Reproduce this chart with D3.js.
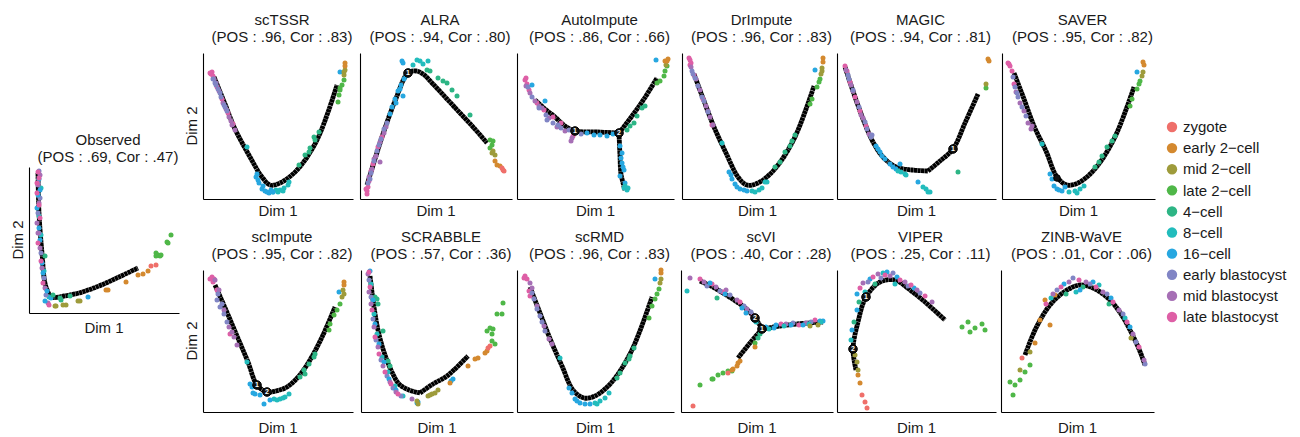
<!DOCTYPE html>
<html>
<head>
<meta charset="utf-8">
<script src="https://cdn.jsdelivr.net/npm/d3@7"></script>
<style>
  body { margin: 0; background: #fff; }
  svg { font-family: "Liberation Sans", Arial, sans-serif; }
</style>
</head>
<body>
<svg id="chart" width="1300" height="437"></svg>
<script>
// cell stages (legend order) and colours
const cellKeys = ["zy", "e2", "m2", "l2", "c4", "c8", "c16", "eb", "mb", "lb"];
const cellTypes = ["zygote", "early 2\u2212cell", "mid 2\u2212cell", "late 2\u2212cell", "4\u2212cell", "8\u2212cell", "16\u2212cell", "early blastocyst", "mid blastocyst", "late blastocyst"];
const cellColors = ["#EF6F6A", "#D4892F", "#9E9B3B", "#4FB748", "#2DB585", "#22BCBC", "#27A7E0", "#8185C5", "#A66FB5", "#DE5FA6"];

const methods = ["Observed", "scTSSR", "ALRA", "AutoImpute", "DrImpute", "MAGIC", "SAVER", "scImpute", "SCRABBLE", "scRMD", "scVI", "VIPER", "ZINB-WaVE"];
const posScores = [".69", ".96", ".94", ".86", ".96", ".94", ".95", ".95", ".57", ".96", ".40", ".25", ".01"];
const corScores = [".47", ".83", ".80", ".66", ".83", ".81", ".82", ".82", ".36", ".83", ".28", ".11", ".06"];

// cells in (Dim 1, Dim 2), per stage
const ptsObserved = [
  ["c8", [[1.2,12.5],[1.0,9.7],[1.2,7.8],[1.5,4.2],[2.0,1.6]]],
  ["eb", [[1.0,14.2],[0.9,13.0],[1.1,11.5],[0.9,10.0],[1.0,8.0],[1.2,6.0],[1.5,3.5],[1.7,1.8]]],
  ["mb", [[1.1,13.8],[0.9,12.8],[1.0,11.0],[0.8,9.0],[1.1,6.5],[1.3,4.5],[1.6,2.5],[1.9,1.0],[0.9,8.0]]],
  ["c16", [[1.0,13.4],[1.1,12.3],[0.8,10.5],[1.0,8.5],[1.3,5.0],[1.4,4.0],[1.8,2.2],[2.2,1.5],[1.6,1.2],[5.9,1.6],[0.9,11.8],[1.1,7.3]]],
  ["lb", [[0.9,14.1],[1.0,13.5],[0.8,12.0],[1.1,9.5],[0.9,7.0],[1.2,5.2],[1.4,3.0],[2.0,0.8],[0.8,13.0],[1.0,10.8]]],
  ["c4", [[3.1,1.5],[3.2,1.3],[2.4,1.8],[4.1,1.7],[1.6,5.7]]],
  ["m2", [[5.1,1.2],[4.9,1.2],[3.7,0.8],[3.4,0.8],[2.6,0.7],[2.7,0.7]]],
  ["e2", [[11.9,4.2],[11.4,3.9],[10.9,3.8],[9.7,3.1],[7.7,2.3],[7.9,2.3]]],
  ["zy", [[12.2,4.7],[12.7,4.8]]],
  ["l2", [[14.2,7.8],[13.8,7.1],[13.9,7.0],[12.7,6.0],[12.9,5.8],[13.1,5.7],[12.7,5.7],[13.2,5.8]]]
];
const ptsScTSSR = [
  ["lb", [[0.9,12.7],[0.8,12.5],[1.0,12.3],[0.7,12.6],[1.4,11.2],[2.5,8.6],[3.0,7.5],[1.9,10.0]]],
  ["mb", [[1.1,12.0],[1.6,10.8],[2.0,9.6],[2.6,8.2],[2.9,7.4],[3.2,6.9],[2.3,9.0],[1.3,11.6],[2.8,7.8]]],
  ["eb", [[1.2,11.6],[1.5,11.0],[1.8,10.2],[2.1,9.4],[2.4,8.8],[1.3,11.4],[1.0,12.0],[1.7,10.6],[2.2,9.2]]],
  ["c8", [[4.4,5.2],[7.3,0.9],[7.7,0.9],[8.1,1.1],[8.5,1.4],[8.6,1.7],[7.5,0.7],[8.0,0.8],[7.0,0.7]]],
  ["c16", [[5.3,2.2],[5.6,1.6],[5.9,1.0],[6.2,0.8],[6.6,0.6],[7.0,0.7],[6.0,1.3],[5.5,1.9],[6.4,0.7],[5.4,2.5],[6.8,0.9],[13.7,12.7]]],
  ["c4", [[9.6,3.4],[10.2,4.4],[10.7,5.1],[11.2,5.9],[11.6,6.7],[11.1,6.2],[10.6,4.7]]],
  ["l2", [[13.6,10.4],[13.7,10.9],[13.9,11.4],[14.1,11.9],[13.7,11.1],[13.5,9.7]]],
  ["m2", [[14.1,12.7],[14.1,12.4],[14.2,12.9]]],
  ["e2", [[14.2,13.6],[14.2,13.3]]]
];
const ptsALRA = [
  ["lb", [[0.7,0.8],[0.8,1.2],[0.9,1.8],[1.3,3.5],[1.8,5.2],[2.2,6.2],[0.6,1.0],[0.7,0.5],[1.1,2.8]]],
  ["mb", [[0.9,2.2],[1.2,3.0],[1.6,4.3],[2.0,5.7],[2.4,6.6],[2.0,3.7],[2.6,7.2],[1.4,4.0]]],
  ["eb", [[0.8,1.6],[1.1,2.6],[1.4,3.8],[1.7,4.8],[2.1,6.0],[2.4,7.0],[2.7,7.6],[1.0,2.0],[1.9,5.4]]],
  ["c16", [[3.2,9.2],[3.5,10.0],[3.8,10.8],[4.1,11.4],[4.4,12.0],[4.6,12.3],[3.6,9.6],[4.3,10.3],[4.2,13.8],[4.3,13.6],[3.0,8.5],[4.0,11.0]]],
  ["c8", [[5.7,13.9],[6.0,13.8],[6.8,13.8],[5.3,13.4],[4.9,12.8],[6.3,13.5]]],
  ["c4", [[6.7,12.9],[7.0,12.8],[7.8,12.1],[8.3,11.8],[8.7,11.6],[9.2,10.9],[9.7,10.3],[11.0,8.4]]],
  ["l2", [[13.0,5.9],[13.2,5.4],[13.3,5.8],[13.0,5.1]]],
  ["m2", [[13.3,4.8],[13.5,4.4],[13.2,4.6]]],
  ["e2", [[13.5,3.8],[13.7,3.4],[14.0,3.3]]],
  ["zy", [[14.2,3.1],[14.3,2.9],[14.4,2.8]]]
];
const ptsAutoImpute = [
  ["lb", [[0.8,11.9],[1.0,11.5],[1.2,10.9],[2.0,9.6],[3.6,8.2],[4.4,7.6],[5.6,6.3],[0.9,12.1],[2.7,8.9]]],
  ["mb", [[0.9,11.3],[1.3,10.6],[1.8,9.8],[2.5,9.1],[3.2,8.1],[4.0,7.2],[5.4,5.8],[5.5,6.1],[4.8,6.8],[2.2,9.3]]],
  ["eb", [[1.1,11.2],[1.5,10.2],[2.2,9.1],[2.9,8.4],[3.6,7.6],[4.4,7.1],[5.2,6.9],[6.4,6.5],[3.0,7.9],[4.1,7.4]]],
  ["c16", [[1.5,11.4],[2.8,9.8],[7.7,6.4],[8.3,6.4],[9.0,6.3],[7.0,6.6],[10.3,5.3],[10.5,4.6],[10.5,3.6],[10.7,2.9],[10.3,2.3],[10.8,1.6],[13.9,13.9],[10.4,4.1],[10.6,3.2],[9.6,6.5]]],
  ["c8", [[10.8,1.3],[11.0,0.9],[10.7,1.1],[11.1,1.1]]],
  ["c4", [[11.3,7.3],[11.7,7.6],[12.0,8.3],[12.5,9.1],[12.8,9.3],[11.0,6.9]]],
  ["l2", [[14.0,11.6],[14.3,11.8],[14.7,12.3],[14.8,12.8],[15.0,13.3]]],
  ["m2", [[14.9,13.4]]],
  ["e2", [[14.8,13.8],[15.0,13.8],[15.1,14.0]]]
];
const ptsDrImpute = [
  ["lb", [[0.7,14.1],[0.8,13.9],[0.9,13.6],[1.2,12.4],[2.1,10.0],[3.0,7.4],[0.8,13.4]]],
  ["mb", [[0.9,13.2],[1.4,12.0],[1.8,10.9],[2.4,9.3],[2.8,8.2],[3.1,7.4],[2.6,8.8]]],
  ["eb", [[1.0,12.8],[1.3,12.1],[1.6,11.3],[2.0,10.2],[2.6,8.7],[1.1,12.5],[2.2,9.8]]],
  ["c8", [[4.0,5.6],[7.0,0.8],[7.7,0.9],[8.3,1.7],[8.5,1.7],[7.3,0.7],[8.0,1.1]]],
  ["c16", [[4.7,2.7],[5.0,2.0],[5.3,1.5],[5.8,1.0],[6.5,0.8],[5.5,1.2],[6.2,0.9],[4.9,2.4],[13.3,12.9]]],
  ["c4", [[9.3,3.2],[9.8,3.7],[10.3,4.7],[10.8,5.3],[11.3,6.4],[11.0,5.8]]],
  ["l2", [[12.8,9.5],[13.0,10.0],[13.5,11.2],[13.7,11.7],[13.8,12.0]]],
  ["m2", [[14.0,12.8],[13.9,12.5],[14.0,13.1]]],
  ["e2", [[14.1,14.1],[14.1,13.7]]]
];
const ptsMAGIC = [
  ["lb", [[0.8,13.3],[1.3,11.7],[1.8,10.2],[2.3,8.8],[2.9,7.3],[1.0,12.8]]],
  ["mb", [[0.9,12.9],[1.4,11.4],[2.0,9.7],[2.6,8.1],[3.2,6.5],[1.6,10.8],[2.4,8.4]]],
  ["eb", [[1.1,12.4],[1.6,10.9],[2.2,9.2],[2.8,7.7],[3.4,6.2],[3.5,6.4],[1.2,12.0],[3.0,7.0]]],
  ["c16", [[3.9,5.3],[4.3,4.7],[4.8,4.0],[5.3,3.5],[5.9,3.0],[6.3,3.5],[4.1,5.0],[8.1,1.7],[4.5,4.3],[5.6,3.2]]],
  ["c8", [[6.4,2.7],[6.8,2.5],[6.9,2.4],[8.6,1.2],[9.1,0.7],[9.3,0.7],[8.9,1.0],[6.1,2.8]]],
  ["c4", [[12.1,2.7]]],
  ["l2", [[14.9,11.1]]],
  ["m2", [[14.9,11.5]]],
  ["e2", [[15.1,14.0],[15.2,13.8]]]
];
const ptsSAVER = [
  ["lb", [[0.7,13.5],[0.8,13.3],[1.0,12.8],[1.2,11.5],[0.6,13.6]]],
  ["mb", [[1.4,10.7],[1.8,9.6],[2.2,8.8],[2.6,7.6],[3.0,7.3],[2.9,7.0]]],
  ["eb", [[1.1,12.2],[1.3,11.2],[1.6,10.2],[2.0,9.2],[2.4,8.3],[1.5,10.6]]],
  ["c8", [[4.0,5.5],[6.7,0.7],[7.3,0.8],[7.8,1.0],[8.2,1.3],[7.5,0.6]]],
  ["c16", [[4.8,2.5],[5.0,2.0],[5.2,1.3],[5.5,1.0],[6.0,0.8],[6.3,1.2],[5.7,0.9],[13.5,12.7]]],
  ["c4", [[9.3,3.2],[9.7,3.7],[10.0,4.3],[10.5,5.2],[11.0,5.8],[11.3,6.3]]],
  ["l2", [[12.8,9.3],[13.0,10.0],[13.5,11.0],[13.7,11.5],[13.8,11.8]]],
  ["m2", [[14.0,12.3],[14.1,12.7]]],
  ["e2", [[14.1,13.7],[14.2,13.4]]]
];
const ptsScImpute = [
  ["lb", [[0.9,13.5],[1.1,13.3],[0.7,13.3],[1.4,12.2],[2.7,7.8],[1.0,13.0]]],
  ["mb", [[1.2,13.2],[1.6,12.2],[2.1,10.2],[2.6,8.5],[3.1,7.5],[3.4,6.7],[2.9,8.0]]],
  ["eb", [[1.4,11.2],[1.7,10.5],[2.1,9.8],[2.4,9.0],[1.5,11.8],[1.9,10.8]]],
  ["c8", [[4.4,5.0],[7.1,1.3],[7.7,1.3],[8.2,1.5],[8.6,1.8],[7.4,1.2],[8.0,1.4]]],
  ["c16", [[4.7,2.8],[4.9,2.5],[5.2,1.8],[5.7,1.7],[6.1,0.8],[6.7,1.2],[5.0,1.9],[13.6,12.0]]],
  ["c4", [[9.7,3.5],[10.1,4.2],[10.6,4.8],[11.1,5.5],[11.2,5.8],[10.2,3.8]]],
  ["l2", [[12.6,8.2],[12.7,8.8],[13.1,9.7],[13.4,10.2],[13.7,10.8]]],
  ["m2", [[13.9,11.5],[14.1,11.8],[14.0,12.2]]],
  ["e2", [[14.1,13.0],[14.1,12.7]]]
];
const ptsSCRABBLE = [
  ["c4", [[1.6,11.3],[1.7,10.8],[1.4,11.5],[2.2,8.1],[2.7,5.1],[2.9,4.6]]],
  ["c8", [[1.0,12.8],[1.3,9.8],[1.6,7.8],[2.1,5.5],[2.7,4.0],[3.4,2.6],[4.2,1.6]]],
  ["eb", [[0.8,13.2],[1.0,11.5],[1.2,9.3],[1.5,7.2],[2.0,5.2],[2.6,3.6],[3.2,2.4],[4.0,1.6]]],
  ["c16", [[0.9,14.1],[1.2,11.2],[1.4,8.8],[1.8,6.8],[2.3,5.0],[2.8,3.3],[3.5,2.2],[5.7,1.0],[9.2,3.3],[9.0,3.1],[5.6,0.9]]],
  ["mb", [[0.7,13.8],[0.8,12.0],[1.0,10.8],[1.3,8.5],[1.7,6.5],[2.2,4.6],[2.9,3.0],[3.5,2.0],[5.1,1.3]]],
  ["lb", [[0.8,14.0],[0.9,12.5],[1.1,10.2],[1.4,7.5],[1.8,5.8],[2.4,4.0],[3.0,2.8],[3.7,1.8]]],
  ["m2", [[5.6,1.1],[5.7,0.8],[6.7,1.6],[7.1,1.8],[7.4,1.9],[7.7,2.2],[6.9,1.7]]],
  ["e2", [[8.9,2.9],[10.7,4.6],[11.4,5.3],[11.7,5.4],[12.4,5.9],[12.6,6.1]]],
  ["zy", [[12.7,6.4],[12.9,6.6]]],
  ["l2", [[12.6,8.1],[12.9,8.4],[13.2,8.3],[13.1,7.8],[13.1,7.1],[13.4,6.8],[13.6,9.8],[14.1,9.8],[14.2,10.9]]]
];
const ptsScRMD = [
  ["lb", [[0.8,13.6],[0.7,13.4],[1.0,13.3],[1.2,12.1],[1.3,11.6]]],
  ["mb", [[1.3,12.9],[1.5,12.4],[2.0,10.6],[2.7,8.6],[3.2,7.3],[3.5,6.8]]],
  ["eb", [[1.7,11.3],[2.0,10.3],[2.3,9.6],[2.8,8.1],[1.5,11.9],[2.5,9.0]]],
  ["c8", [[4.3,5.4],[7.8,0.9],[8.3,1.1],[8.8,1.4],[9.2,1.9],[8.0,0.8]]],
  ["c16", [[5.2,2.4],[5.5,1.9],[5.8,1.3],[6.3,0.9],[6.8,0.8],[7.3,0.8],[6.0,1.1],[13.8,13.3]]],
  ["c4", [[10.0,3.4],[10.3,3.9],[10.8,4.9],[11.3,5.6],[11.7,6.4],[11.2,5.3]]],
  ["l2", [[13.2,9.4],[13.5,10.6],[13.8,11.3],[14.0,11.8],[14.2,12.3]]],
  ["m2", [[14.3,12.9],[14.4,13.3]]],
  ["e2", [[14.4,14.2],[14.4,13.9]]]
];
const ptsScVI = [
  ["mb", [[0.9,13.4],[2.3,13.0],[3.5,12.5],[4.5,12.2],[5.6,11.2],[6.6,10.3],[10.5,8.8],[12.5,8.9]]],
  ["lb", [[1.9,13.3],[3.1,12.8],[4.2,12.0],[5.9,11.0],[7.2,9.6],[10.0,8.8],[11.8,8.7],[13.4,9.2]]],
  ["eb", [[2.6,12.6],[3.9,12.1],[4.9,11.7],[6.3,10.6],[7.0,10.0],[11.2,8.9],[13.0,9.0]]],
  ["c16", [[2.9,12.9],[4.4,11.8],[6.1,10.4],[6.5,9.9],[7.3,9.2],[8.5,8.5],[9.5,8.7],[11.0,8.7],[12.2,8.7],[13.9,9.1],[14.2,9.1],[9.3,8.4]]],
  ["c8", [[0.6,12.1],[7.5,9.0],[8.8,8.3],[10.3,8.6],[12.8,8.8],[14.0,9.0]]],
  ["c4", [[3.6,11.4],[7.9,7.8],[7.7,7.4]]],
  ["m2", [[12.9,8.6],[13.7,8.7]]],
  ["l2", [[7.4,6.9],[1.9,2.7],[3.1,3.3],[3.2,3.3],[3.7,3.7],[4.2,3.9],[4.7,4.1],[5.1,4.1]]],
  ["e2", [[7.4,6.5],[5.7,4.9],[5.2,4.3],[5.6,4.6],[5.9,5.1],[5.1,4.2]]],
  ["zy", [[4.7,3.9],[1.2,0.6]]]
];
const ptsVIPER = [
  ["c4", [[2.2,11.0],[3.8,12.8],[1.7,9.0]]],
  ["c8", [[2.8,12.0],[4.6,13.9],[5.8,12.8],[1.4,7.2]]],
  ["c16", [[2.0,11.8],[3.3,13.3],[5.0,14.0],[6.0,13.5],[7.7,12.4],[2.0,10.2],[1.5,8.2]]],
  ["eb", [[3.1,13.0],[4.4,13.4],[5.6,13.9],[7.1,12.6],[8.3,11.9]]],
  ["mb", [[2.6,12.9],[4.1,13.8],[5.3,13.6],[6.8,13.0],[8.0,12.2],[9.5,11.0]]],
  ["lb", [[2.3,12.4],[3.6,13.5],[4.8,13.7],[6.3,13.2],[7.4,12.7],[8.8,11.6]]],
  ["l2", [[12.5,8.5],[13.1,9.0],[13.8,8.4],[14.5,8.8],[14.8,8.2],[13.3,8.0]]],
  ["m2", [[1.8,5.7],[2.0,5.0],[2.1,4.2]]],
  ["e2", [[2.1,3.7],[2.3,2.9]]],
  ["zy", [[2.5,1.7],[2.8,1.0],[3.0,0.4]]]
];
const ptsZINB = [
  ["l2", [[0.9,3.0],[1.4,2.7],[1.9,3.2],[1.2,1.7],[2.4,4.0],[2.9,4.7]]],
  ["zy", [[2.1,5.4]]],
  ["m2", [[1.9,4.2],[2.9,6.0],[13.0,7.4]]],
  ["e2", [[3.4,6.9],[3.9,9.2],[4.4,11.2],[5.4,11.7],[4.9,8.7]]],
  ["c8", [[5.0,11.4],[7.5,12.0],[9.8,12.7],[12.4,9.4]]],
  ["c4", [[6.5,11.8],[8.2,12.5],[10.8,10.8]]],
  ["c16", [[6.3,12.8],[7.9,12.2],[9.2,13.0],[11.0,11.4],[12.9,8.5]]],
  ["eb", [[5.6,12.2],[7.2,13.4],[8.9,12.8],[10.6,11.8],[12.2,9.8],[13.5,7.0],[14.4,4.8]]],
  ["mb", [[5.2,11.8],[6.8,13.0],[8.5,13.0],[10.2,12.0],[11.8,10.2],[13.2,7.8],[14.3,5.2]]],
  ["lb", [[4.5,10.8],[6.0,12.5],[7.8,13.2],[9.5,12.5],[11.2,11.0],[12.6,9.0],[13.8,6.5]]]
];
const pointSets = [ptsObserved, ptsScTSSR, ptsALRA, ptsAutoImpute, ptsDrImpute, ptsMAGIC, ptsSAVER,
  ptsScImpute, ptsSCRABBLE, ptsScRMD, ptsScVI, ptsVIPER, ptsZINB];

// fitted trajectories (one or more lineages per method)
const trajectories = [
  [[[0.9,14],[1.0,10],[1.3,6],[1.7,2.6],[2.3,1.6],[3.5,1.7],[5,2],[7,2.7],[9,3.6],[10.9,4.5]]],
  [[[1.1,12.2],[2.2,9.5],[3.2,7],[4.7,4.2],[5.9,2.2],[6.7,1.4],[7.7,1.6],[9.4,2.9],[11.4,5.9],[13.4,11.4]]],
  [[[0.7,1.4],[1.5,4.0],[2.4,6.8],[3.5,9.8],[4.8,12.6],[5.6,12.8],[6.3,12.5],[7.3,11.5],[8.7,10.0],[10,8.6],[11.4,7.1],[12.7,5.6]]],
  [[[1.8,9.9],[2.8,9.0],[3.8,8.2],[4.8,7.3],[5.8,6.8],[8,6.7],[10.2,6.6]],
   [[10.2,6.6],[11.5,8.3],[12.7,10],[14.0,12.1]],
   [[10.2,6.6],[10.3,4.3],[10.4,2.5],[10.8,0.9]]],
  [[[1.2,12.5],[2.2,9.8],[3.2,7.2],[4.4,4.6],[5.6,2.2],[6.5,1.4],[7.6,1.6],[9.2,2.9],[11.2,6.0],[13.2,11.3]]],
  [[[0.8,13.2],[1.8,10.2],[2.8,7.5],[3.6,5.7],[4.6,4.2],[5.9,3.2],[7.5,2.9],[9.1,2.8]],
   [[9.1,2.8],[10.3,3.8],[11.6,5.0],[12.8,7.6],[14.1,10.5]]],
  [[[1.2,12.6],[2.2,10.0],[3.2,7.3],[4.4,4.8],[5.5,2.2],[6.5,1.4],[7.6,1.6],[9.2,2.9],[11.2,6.0],[13.2,11.2]]],
  [[[1.2,12.7],[2.3,10.2],[3.4,7.6],[4.5,5.0],[5.4,2.7],[6.4,2.0],[7.3,2.1],[8.4,2.5],[9.6,3.6],[10.7,5.2],[12.0,7.7],[13.2,10.5]]],
  [[[0.9,13.6],[1.3,10.5],[1.7,8.2],[2.3,6.0],[3.0,4.2],[3.8,2.8],[4.8,2.2],[5.9,1.9]],
   [[5.9,1.9],[7.2,2.8],[8.6,3.6],[10.7,5.6]]],
  [[[1.3,12.5],[2.3,9.9],[3.4,7.1],[4.5,4.6],[5.6,2.2],[6.7,1.4],[7.8,1.6],[9.4,2.9],[11.4,6.0],[13.5,11.5]]],
  [[[1.9,13.1],[3.0,12.6],[4.2,11.9],[5.3,11.2],[6.3,10.5],[7.4,9.4],[8.1,8.3]],
   [[8.1,8.3],[9.9,8.6],[11.6,8.8],[14.2,9.0]],
   [[8.1,8.3],[6.9,6.9],[5.7,5.4]]],
  [[[1.9,4.2],[1.6,6.3],[2.1,9.0],[2.9,11.5],[4.3,13.0],[5.8,13.2],[7.3,12.2],[8.8,11.0],[10.8,9.2]]],
  [[[2.4,5.7],[3.5,8.4],[4.9,10.7],[6.3,12.0],[7.9,12.7],[9.4,12.3],[10.9,11.2],[12.0,9.8],[12.9,8.2],[13.8,6.3],[14.4,4.7]]]
];
// branch / milestone nodes
const milestones = [
  [], [], [[4.8,12.6,"1"]], [[5.8,6.8,"1"],[10.2,6.6,"2"]], [], [[11.6,5.0,"1"]], [[5.5,2.1,""]],
  [[5.4,2.7,"1"],[6.4,2.0,"2"]], [], [], [[8.1,8.3,"1"],[7.4,9.4,"2"]], [[2.9,11.5,"1"],[1.6,6.3,"2"]], []
];

// layout: [left, top, width, height] of each panel's plotting area, plus title baseline
const panelBoxes = [
  [29, 167, 150, 146],
  [203, 53, 150, 146], [360, 53, 152, 146], [517, 53, 157, 146], [682, 53, 151, 146], [837, 53, 159, 146], [1002, 53, 153, 146],
  [203, 270, 150, 142], [361, 270, 152, 142], [517, 270, 157, 142], [681, 270, 152, 142], [837, 270, 159, 142], [1001, 270, 153, 142]
];
const titleBase = [145, 25, 25, 25, 25, 25, 25, 242, 242, 242, 242, 242, 242];
const dim1Base = [333, 216, 216, 216, 216, 216, 216, 433, 433, 433, 433, 433, 433];
const showDim2 = [true, true, false, false, false, false, false, true, false, false, false, false, false];

const colorOf = d3.scaleOrdinal(cellKeys, cellColors);
const svg = d3.select("#chart");
const fontSize = 15;

methods.forEach((name, i) => {
  const [x0, y0, w, h] = panelBoxes[i];
  const x = d3.scaleLinear([0, w / 10], [x0, x0 + w]);
  const y = d3.scaleLinear([0, h / 10], [y0 + h, y0]);
  const g = svg.append("g");

  // axis lines only, no ticks
  g.append("g").attr("transform", `translate(0,${y0 + h})`)
    .call(d3.axisBottom(x).ticks(0).tickSizeOuter(0))
    .select(".domain").attr("stroke", "#000").attr("stroke-width", 1.1);
  g.append("g").attr("transform", `translate(${x0},0)`)
    .call(d3.axisLeft(y).ticks(0).tickSizeOuter(0))
    .select(".domain").attr("stroke", "#000").attr("stroke-width", 1.1);

  // titles
  const cx = x0 + w / 2 + 4;
  g.append("text").attr("x", cx).attr("y", titleBase[i]).attr("text-anchor", "middle")
    .attr("font-size", fontSize).attr("fill", "#1a1a1a").text(name);
  g.append("text").attr("x", cx).attr("y", titleBase[i] + 17).attr("text-anchor", "middle")
    .attr("font-size", fontSize).attr("fill", "#1a1a1a")
    .text(`(POS : ${posScores[i]}, Cor : ${corScores[i]})`);

  g.append("text").attr("x", x0 + w / 2).attr("y", dim1Base[i]).attr("text-anchor", "middle")
    .attr("font-size", fontSize).attr("fill", "#1a1a1a").text("Dim 1");
  if (showDim2[i]) {
    g.append("text")
      .attr("transform", `translate(${x0 - 6},${y0 + h / 2}) rotate(-90)`)
      .attr("text-anchor", "middle").attr("font-size", fontSize).attr("fill", "#1a1a1a").text("Dim 2");
  }

  // trajectory
  const line = d3.line().x(d => x(d[0])).y(d => y(d[1])).curve(d3.curveCatmullRom.alpha(0.5));
  g.append("g").selectAll("path").data(trajectories[i]).join("path")
    .attr("d", line).attr("fill", "none").attr("stroke", "#000")
    .attr("stroke-width", 4.8).attr("stroke-dasharray", "3.2,0.3");

  // cells
  const cells = pointSets[i].flatMap(([key, pts]) => pts.map(p => ({ key, p })));
  g.append("g").selectAll("circle").data(cells).join("circle")
    .attr("cx", d => x(d.p[0])).attr("cy", d => y(d.p[1])).attr("r", 2.5)
    .attr("fill", d => colorOf(d.key));

  // milestones
  const ms = g.append("g").selectAll("g").data(milestones[i]).join("g")
    .attr("transform", d => `translate(${x(d[0])},${y(d[1])})`);
  ms.append("circle").attr("r", d => d[2] ? 4.3 : 3.3).attr("fill", "#111").attr("stroke", "#000");
  ms.append("text").attr("text-anchor", "middle").attr("dy", "0.35em")
    .attr("font-size", 7).attr("font-weight", "bold").attr("fill", "#fff").text(d => d[2]);
});

// legend
const legend = svg.append("g");
const ly = d3.scalePoint(cellTypes, [127, 317]);
legend.selectAll("circle").data(cellTypes).join("circle")
  .attr("cx", 1172).attr("cy", d => ly(d)).attr("r", 5.2)
  .attr("fill", (d, i) => cellColors[i]);
legend.selectAll("text").data(cellTypes).join("text")
  .attr("x", 1183).attr("y", d => ly(d)).attr("dy", "0.35em")
  .attr("font-size", fontSize).attr("fill", "#1a1a1a").text(d => d);
</script>
</body>
</html>
